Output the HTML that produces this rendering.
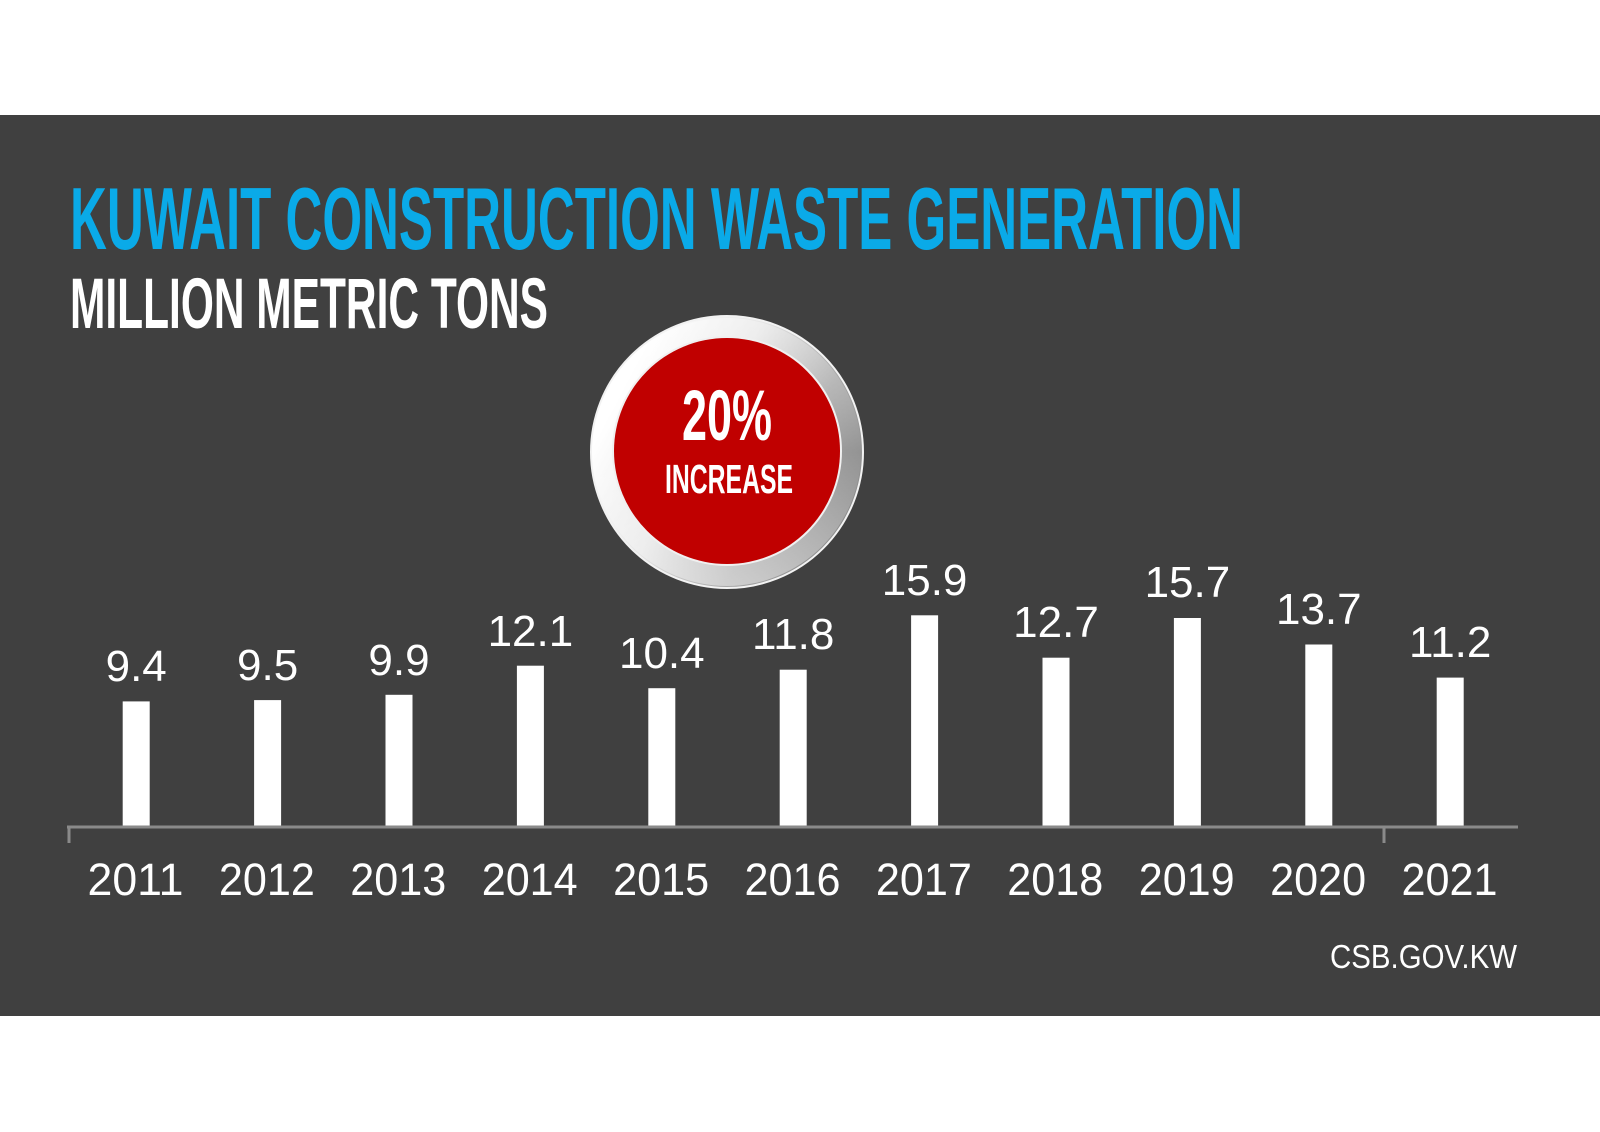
<!DOCTYPE html>
<html>
<head>
<meta charset="utf-8">
<style>
html,body{margin:0;padding:0;background:#fff;}
body{width:1600px;height:1132px;overflow:hidden;}
svg{display:block;}
</style>
</head>
<body>
<svg width="1600" height="1132" viewBox="0 0 1600 1132" xmlns="http://www.w3.org/2000/svg">
<defs>
<linearGradient id="ring" x1="0.1" y1="0.3" x2="0.95" y2="0.75">
<stop offset="0" stop-color="#ffffff"/>
<stop offset="0.35" stop-color="#e6e6e6"/>
<stop offset="0.7" stop-color="#a8a8a8"/>
<stop offset="1" stop-color="#8c8c8c"/>
</linearGradient>
<linearGradient id="ring2" x1="0" y1="0" x2="0" y2="1">
<stop offset="0" stop-color="#ffffff" stop-opacity="0.35"/>
<stop offset="0.5" stop-color="#ffffff" stop-opacity="0"/>
<stop offset="1" stop-color="#ffffff" stop-opacity="0.45"/>
</linearGradient>
</defs>
<rect x="0" y="0" width="1600" height="1132" fill="#ffffff"/>
<rect x="0" y="115" width="1600" height="901" fill="#404040"/>

<text x="70" y="249" font-family="Liberation Sans, sans-serif" font-weight="bold" font-size="88" fill="#0AAAE8" textLength="1173" lengthAdjust="spacingAndGlyphs">KUWAIT CONSTRUCTION WASTE GENERATION</text>
<text x="70" y="328" font-family="Liberation Sans, sans-serif" font-weight="bold" font-size="71" fill="#ffffff" textLength="478" lengthAdjust="spacingAndGlyphs">MILLION METRIC TONS</text>

<!-- badge -->
<circle cx="727" cy="452" r="136" fill="url(#ring)" stroke="#f2f2f2" stroke-width="2"/>
<circle cx="727" cy="452" r="134" fill="url(#ring2)"/>
<circle cx="727" cy="451" r="115" fill="#f0f0f0"/>
<circle cx="727" cy="451" r="113" fill="#C00000"/>
<text x="682" y="440" font-family="Liberation Sans, sans-serif" font-weight="bold" font-size="71" fill="#ffffff" textLength="90" lengthAdjust="spacingAndGlyphs">20%</text>
<text x="665" y="493" font-family="Liberation Sans, sans-serif" font-weight="bold" font-size="41" fill="#ffffff" textLength="128" lengthAdjust="spacingAndGlyphs">INCREASE</text>

<!-- bars -->
<g fill="#ffffff">
<rect x="122.7" y="701.4" width="27" height="125"/>
<rect x="254.1" y="700.1" width="27" height="126"/>
<rect x="385.5" y="694.8" width="27" height="131.2"/>
<rect x="516.9" y="665.7" width="27" height="160.3"/>
<rect x="648.3" y="688.2" width="27" height="137.8"/>
<rect x="779.7" y="669.7" width="27" height="156.3"/>
<rect x="911.1" y="615.3" width="27" height="210.7"/>
<rect x="1042.5" y="657.7" width="27" height="168.3"/>
<rect x="1173.9" y="618" width="27" height="208"/>
<rect x="1305.3" y="644.5" width="27" height="181.5"/>
<rect x="1436.7" y="677.6" width="27" height="148.4"/>
</g>

<!-- axis -->
<line x1="67" y1="827" x2="1518" y2="827" stroke="#8a8a8a" stroke-width="3"/>
<line x1="69" y1="826" x2="69" y2="843" stroke="#8a8a8a" stroke-width="3"/>
<line x1="1384" y1="826" x2="1384" y2="843" stroke="#8a8a8a" stroke-width="3"/>

<!-- value labels -->
<g font-family="Liberation Sans, sans-serif" font-size="44" fill="#ffffff" text-anchor="middle">
<text x="136.2" y="681">9.4</text>
<text x="267.6" y="680">9.5</text>
<text x="399" y="675">9.9</text>
<text x="530.4" y="646">12.1</text>
<text x="661.8" y="668">10.4</text>
<text x="793.2" y="649">11.8</text>
<text x="924.6" y="595">15.9</text>
<text x="1056" y="637">12.7</text>
<text x="1187.4" y="597">15.7</text>
<text x="1318.8" y="624">13.7</text>
<text x="1450.2" y="657">11.2</text>
</g>

<!-- year labels -->
<g font-family="Liberation Sans, sans-serif" font-size="45" fill="#ffffff">
<text x="87.5" y="895" textLength="96" lengthAdjust="spacingAndGlyphs">2011</text>
<text x="218.9" y="895" textLength="96" lengthAdjust="spacingAndGlyphs">2012</text>
<text x="350.3" y="895" textLength="96" lengthAdjust="spacingAndGlyphs">2013</text>
<text x="481.7" y="895" textLength="96" lengthAdjust="spacingAndGlyphs">2014</text>
<text x="613.1" y="895" textLength="96" lengthAdjust="spacingAndGlyphs">2015</text>
<text x="744.5" y="895" textLength="96" lengthAdjust="spacingAndGlyphs">2016</text>
<text x="875.9" y="895" textLength="96" lengthAdjust="spacingAndGlyphs">2017</text>
<text x="1007.3" y="895" textLength="96" lengthAdjust="spacingAndGlyphs">2018</text>
<text x="1138.7" y="895" textLength="96" lengthAdjust="spacingAndGlyphs">2019</text>
<text x="1270.1" y="895" textLength="96" lengthAdjust="spacingAndGlyphs">2020</text>
<text x="1401.5" y="895" textLength="96" lengthAdjust="spacingAndGlyphs">2021</text>
</g>

<text x="1330" y="968" font-family="Liberation Sans, sans-serif" font-size="33" fill="#ffffff" textLength="187" lengthAdjust="spacingAndGlyphs">CSB.GOV.KW</text>
</svg>
</body>
</html>
